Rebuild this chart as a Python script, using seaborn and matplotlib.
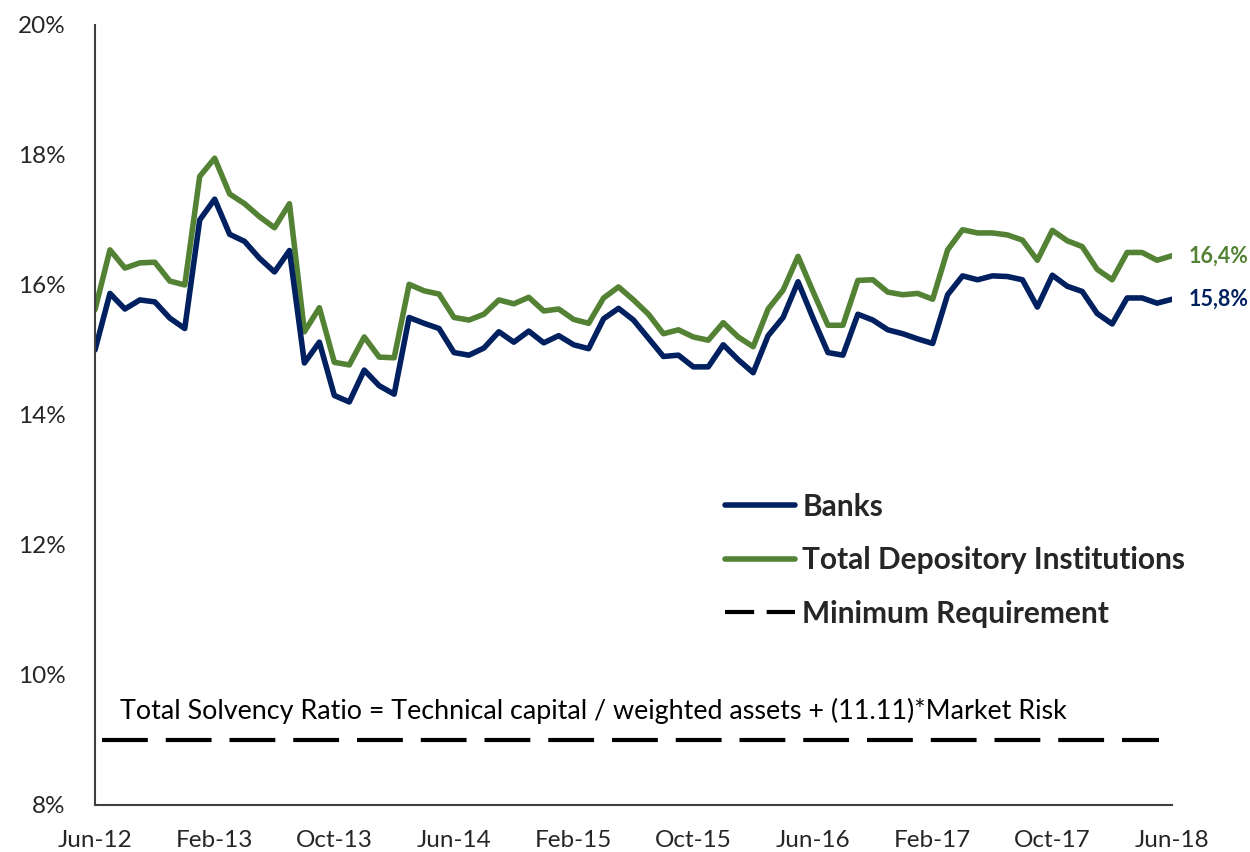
import matplotlib
matplotlib.use("Agg")
import matplotlib.pyplot as plt
from matplotlib.lines import Line2D
from matplotlib.ticker import FuncFormatter
import pandas as pd
import seaborn as sns

# monthly series, Jun-12 .. Jun-18 (73 months), values in %
banks = [15.00, 15.87, 15.63, 15.77, 15.74, 15.49, 15.33, 17.00, 17.32, 16.78, 16.67, 16.41, 16.20, 16.53,
         14.80, 15.12, 14.30, 14.20, 14.69, 14.45, 14.32,
         15.50, 15.41, 15.33, 14.96, 14.92, 15.03, 15.28, 15.12, 15.29, 15.11, 15.22, 15.08, 15.02,
         15.48, 15.64, 15.46, 15.18, 14.90, 14.92, 14.74, 14.74, 15.08, 14.85, 14.65, 15.22, 15.50, 16.05, 15.49, 14.96, 14.92,
         15.55, 15.46, 15.31, 15.25, 15.17, 15.10, 15.85, 16.14, 16.08, 16.14, 16.13, 16.08, 15.66, 16.15, 15.98, 15.90,
         15.56, 15.40, 15.80, 15.80, 15.72, 15.78]
total = [15.62, 16.54, 16.26, 16.34, 16.35, 16.06, 16.00, 17.67, 17.95, 17.40, 17.25, 17.05, 16.88, 17.25,
         15.28, 15.65, 14.81, 14.77, 15.20, 14.89, 14.88,
         16.01, 15.91, 15.86, 15.50, 15.46, 15.55, 15.77, 15.71, 15.81, 15.60, 15.63, 15.47, 15.41,
         15.80, 15.97, 15.77, 15.55, 15.25, 15.31, 15.20, 15.15, 15.42, 15.20, 15.05, 15.63, 15.92, 16.44, 15.90, 15.38, 15.38,
         16.07, 16.08, 15.89, 15.85, 15.87, 15.78, 16.54, 16.85, 16.80, 16.80, 16.77, 16.69, 16.38, 16.84, 16.68, 16.59,
         16.24, 16.08, 16.50, 16.50, 16.38, 16.45]
min_req = 9.0
tick_labels = ["Jun-12", "Feb-13", "Oct-13", "Jun-14", "Feb-15", "Oct-15", "Jun-16", "Feb-17", "Oct-17", "Jun-18"]
end_labels = ["15,8%", "16,4%"]
note = "Total Solvency Ratio = Technical capital / weighted assets + (11.11)*Market Risk"

navy = "#002060"
green = "#548235"

df = pd.DataFrame({"month": range(len(banks)), "Banks": banks, "Total": total})

sns.set_style("white")
plt.rcParams["font.family"] = ["Lato", "DejaVu Sans"]

fig = plt.figure(figsize=(12.5, 8.52), dpi=100)
ax = fig.add_axes([0.076, 0.0552, 0.8616, 0.9155])

sns.lineplot(data=df, x="month", y="Total", color=green, linewidth=4, ax=ax)
sns.lineplot(data=df, x="month", y="Banks", color=navy, linewidth=4, ax=ax)
ax.hlines(min_req, 0.5, 71.1, colors="black", linewidth=3, linestyles=(0, (11, 4.3)))

# end-of-series labels
last = len(banks) - 1
ax.annotate(end_labels[0], (last, banks[-1]), xytext=(12, 0), textcoords="offset points",
            color=navy, fontsize=15.5, fontweight="bold", va="center", ha="left", annotation_clip=False)
ax.annotate(end_labels[1], (last, total[-1]), xytext=(12, 0), textcoords="offset points",
            color=green, fontsize=15.5, fontweight="bold", va="center", ha="left", annotation_clip=False)

ax.text(1.67, 9.45, note, fontsize=19.4, va="center", ha="left", color="black")

ax.set_xlim(0, last)
ax.set_ylim(8, 20)
ax.set_xticks(range(0, last + 1, 8))
ax.set_xticklabels(tick_labels)
ax.set_yticks(range(8, 21, 2))
ax.yaxis.set_major_formatter(FuncFormatter(lambda v, p: f"{v:.0f}%"))
ax.set_xlabel(None)
ax.set_ylabel(None)

sns.despine(ax=ax)
for s in ["left", "bottom"]:
    ax.spines[s].set_color("#404040")
    ax.spines[s].set_linewidth(1.5)
ax.tick_params(axis="y", direction="in", length=7, width=1.5, color="#404040", labelsize=17.5, pad=21)
ax.tick_params(axis="x", direction="out", length=8, width=1.5, color="#404040", labelsize=17.5, pad=10)

handles = [Line2D([], [], color=navy, linewidth=4),
           Line2D([], [], color=green, linewidth=4),
           Line2D([], [], color="black", linewidth=3, linestyle=(0, (7, 3)))]
leg = ax.legend(handles, ["Banks", "Total Depository Institutions", "Minimum Requirement"],
                loc="upper left", bbox_to_anchor=(0.560, 0.435), frameon=False,
                prop={"size": 21.5, "weight": "bold"}, handlelength=2.34, handletextpad=0.25,
                labelspacing=0.86)
for t in leg.get_texts():
    t.set_color("#262626")

fig.savefig("out.png", dpi=100)
